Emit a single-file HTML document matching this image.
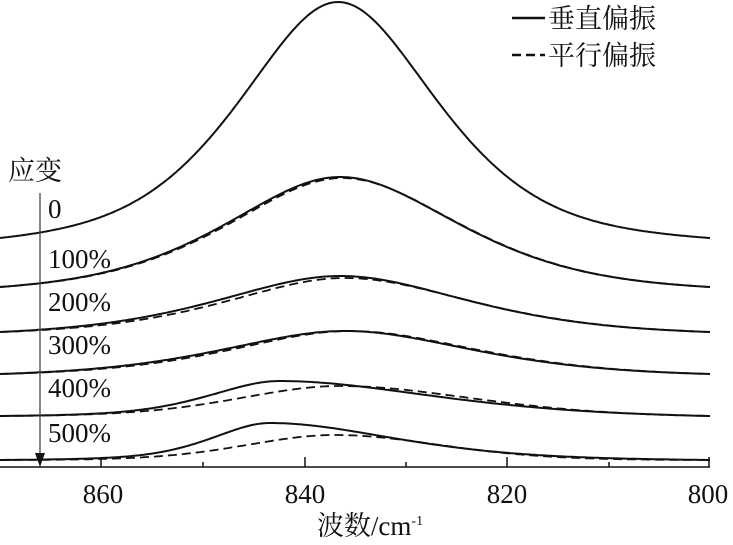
<!DOCTYPE html>
<html><head><meta charset="utf-8"><style>
html,body{margin:0;padding:0;background:#fff;width:733px;height:545px;overflow:hidden}
svg text{font-family:"Liberation Serif","Noto Serif CJK SC",serif;fill:#111}
</style></head><body>
<svg id="s" width="733" height="545" viewBox="0 0 733 545" xmlns="http://www.w3.org/2000/svg">
<g id="curves" fill="none" stroke="#111" stroke-width="2"></g>
<line x1="0" y1="467" x2="710" y2="467" stroke="#111" stroke-width="1.5"/>
<g stroke="#111" stroke-width="1.5">
<line x1="101" y1="467" x2="101" y2="457"/><line x1="305" y1="467" x2="305" y2="457"/>
<line x1="507" y1="467" x2="507" y2="457"/><line x1="709" y1="467" x2="709" y2="457"/>
<line x1="203" y1="467" x2="203" y2="462"/><line x1="406" y1="467" x2="406" y2="462"/>
<line x1="609" y1="467" x2="609" y2="462"/>
</g>
<line x1="40" y1="193" x2="40" y2="458" stroke="#444" stroke-width="1.3"/>
<polygon points="35,453 45,453 40,467" fill="#111"/>
<g font-size="27" text-anchor="middle">
<text x="103" y="503">860</text><text x="305" y="503">840</text>
<text x="507" y="503">820</text><text x="708" y="503">800</text>
<text x="370" y="535">波数/cm<tspan font-size="14" dy="-10">-1</tspan></text>
</g>
<g font-size="27">
<text x="8" y="180">应变</text>
<text x="48" y="218">0</text>
<text x="48" y="268">100%</text>
<text x="48" y="311">200%</text>
<text x="48" y="354">300%</text>
<text x="48" y="397">400%</text>
<text x="48" y="442">500%</text>
<text x="548" y="28">垂直偏振</text>
<text x="548" y="65">平行偏振</text>
</g>
<line x1="512" y1="18" x2="545" y2="18" stroke="#111" stroke-width="2.5"/>
<line x1="512" y1="55" x2="545" y2="55" stroke="#111" stroke-width="2.5" stroke-dasharray="9,5"/>
</svg>
<script>
function f(u,eta){return eta/(1+u*u)+(1-eta)*Math.exp(-Math.log(2)*u*u);}
function curve(c,wl,wr,yp,ye,eta){
 var fl=f((0-c)/wl,eta), fr=f((710-c)/wr,eta), fm=Math.min(fl,fr);
 var A=(ye-yp)/(1-fm), base=yp+A;
 var d="";
 for(var x=0;x<=710;x+=2){var w=x<c?wl:wr;var fv=f((x-c)/w,eta);
  var corr=(x<c)?(fl-fm)*(1-x/c):(fr-fm)*((x-c)/(710-c));
  var y=base-A*(fv-corr);
  d+=(x?"L":"M")+x+","+y.toFixed(1);}
 return d;}
var g=document.getElementById("curves");
function add(d,dash){var p=document.createElementNS("http://www.w3.org/2000/svg","path");p.setAttribute("d",d);if(dash){p.setAttribute("stroke-dasharray","9,5");p.setAttribute("stroke-width","1.8");}g.appendChild(p);}
add(curve(338,120,120,2,238,0.6));
add(curve(340,140,145,177,287,0.6));add(curve(342,140,145,178,287,0.6),1);
add(curve(340,150,155,276,332,0.6));add(curve(345,145,155,278,332,0.6),1);
add(curve(345,150,155,331,374,0.6));add(curve(350,145,155,331,374,0.6),1);
add(curve(280,85,185,381,416,0.5));add(curve(340,120,160,386,416,0.3),1);
add(curve(270,70,150,423,460,0.5));add(curve(335,105,125,435,460,0.2),1);
</script>
</body></html>
